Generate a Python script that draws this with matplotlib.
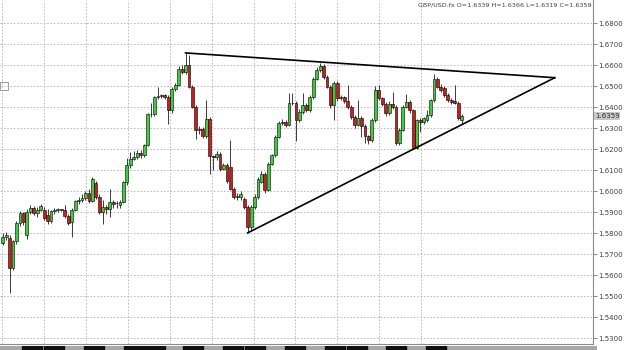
import numpy as np
import matplotlib
matplotlib.use("Agg")
import matplotlib.pyplot as plt
from matplotlib.patches import Rectangle

# GBP/USD.fx candles (oldest first)
opens = [
    1.5752, 1.5783, 1.5778, 1.5635, 1.5762, 1.5849, 1.5897, 1.5790, 1.5900, 1.5921,
    1.5897, 1.5913, 1.5913, 1.5889, 1.5857, 1.5905, 1.5911, 1.5913, 1.5913, 1.5881,
    1.5855, 1.5913, 1.5952, 1.5960, 1.5968, 1.5992, 1.5955,
    1.6040, 1.5975, 1.5900, 1.5925, 1.5915, 1.5950, 1.5943, 1.5935, 1.5951, 1.6044,
    1.6124, 1.6156, 1.6165, 1.6184, 1.6171, 1.6219, 1.6370, 1.6368, 1.6449, 1.6454,
    1.6457, 1.6449, 1.6386, 1.6489, 1.6505, 1.6584, 1.6570,
    1.6600, 1.6497, 1.6402, 1.6290, 1.6298, 1.6262, 1.6346, 1.6167, 1.6163, 1.6179,
    1.6108, 1.6124, 1.6115, 1.6013, 1.5973, 1.5975, 1.5965, 1.5925, 1.5830, 1.5925,
    1.5973, 1.6045, 1.6084, 1.6005, 1.6132,
    1.6171, 1.6261, 1.6324, 1.6332, 1.6317, 1.6419, 1.6422, 1.6340, 1.6380, 1.6411,
    1.6387, 1.6450, 1.6537, 1.6576,
    1.6595, 1.6545, 1.6498, 1.6411, 1.6518, 1.6443, 1.6450, 1.6430, 1.6400, 1.6356,
    1.6317, 1.6350, 1.6309, 1.6262, 1.6244, 1.6339, 1.6482, 1.6442, 1.6418, 1.6371,
    1.6418, 1.6403, 1.6229, 1.6292, 1.6403, 1.6426, 1.6387,
    1.6205, 1.6339, 1.6331, 1.6339, 1.6363, 1.6434, 1.6537, 1.6497, 1.6490, 1.6458,
    1.6434, 1.6430, 1.6420, 1.6339,
]
highs = [
    1.5800, 1.5805, 1.5790, 1.5770, 1.5860, 1.5905, 1.5900, 1.5915, 1.5935, 1.5930,
    1.5925, 1.5940, 1.5925, 1.5915, 1.5912, 1.5920, 1.5922, 1.5918, 1.5935, 1.5890,
    1.5920, 1.5960, 1.5975, 1.5985, 1.6000, 1.6010, 1.6070,
    1.6050, 1.5985, 1.5960, 1.5935, 1.6010, 1.5960, 1.5955, 1.5960, 1.6050, 1.6160,
    1.6185, 1.6190, 1.6195, 1.6195, 1.6225, 1.6375, 1.6420, 1.6455, 1.6497, 1.6465,
    1.6465, 1.6460, 1.6495, 1.6515, 1.6595, 1.6600, 1.6659,
    1.6650, 1.6505, 1.6410, 1.6310, 1.6305, 1.6433, 1.6355, 1.6175, 1.6190, 1.6185,
    1.6135, 1.6135, 1.6243, 1.6020, 1.5990, 1.6000, 1.5975, 1.5935, 1.5935, 1.5985,
    1.6070, 1.6095, 1.6090, 1.6140, 1.6180,
    1.6270, 1.6335, 1.6345, 1.6340, 1.6467, 1.6470, 1.6430, 1.6390, 1.6470, 1.6420,
    1.6460, 1.6545, 1.6590, 1.6612,
    1.6605, 1.6555, 1.6505, 1.6525, 1.6525, 1.6460, 1.6455, 1.6505, 1.6410, 1.6365,
    1.6435, 1.6360, 1.6320, 1.6270, 1.6350, 1.6500, 1.6505, 1.6450, 1.6425, 1.6430,
    1.6475, 1.6410, 1.6300, 1.6410, 1.6465, 1.6435, 1.6392,
    1.6345, 1.6350, 1.6355, 1.6385, 1.6440, 1.6561, 1.6545, 1.6510, 1.6500, 1.6470,
    1.6445, 1.6505, 1.6430, 1.6366,
]
lows = [
    1.5745, 1.5770, 1.5516, 1.5625, 1.5750, 1.5835, 1.5840, 1.5775, 1.5890, 1.5885,
    1.5880, 1.5905, 1.5865, 1.5845, 1.5850, 1.5890, 1.5900, 1.5905, 1.5875, 1.5840,
    1.5783, 1.5905, 1.5940, 1.5950, 1.5960, 1.5945, 1.5950,
    1.5965, 1.5890, 1.5846, 1.5890, 1.5880, 1.5920, 1.5920, 1.5920, 1.5945, 1.6030,
    1.6110, 1.6150, 1.6155, 1.6160, 1.6165, 1.6215, 1.6355, 1.6360, 1.6440, 1.6445,
    1.6440, 1.6322, 1.6375, 1.6480, 1.6500, 1.6560, 1.6560,
    1.6490, 1.6395, 1.6251, 1.6275, 1.6255, 1.6255, 1.6084, 1.6100, 1.6150, 1.6095,
    1.6100, 1.6040, 1.6005, 1.5965, 1.5960, 1.5960, 1.5915, 1.5802, 1.5815, 1.5915,
    1.5965, 1.6040, 1.5990, 1.6000, 1.6125,
    1.6165, 1.6255, 1.6315, 1.6305, 1.6310, 1.6410, 1.6238, 1.6330, 1.6370, 1.6380,
    1.6380, 1.6440, 1.6530, 1.6570,
    1.6535, 1.6490, 1.6395, 1.6340, 1.6430, 1.6435, 1.6420, 1.6390, 1.6345, 1.6300,
    1.6310, 1.6261, 1.6230, 1.6225, 1.6235, 1.6330, 1.6435, 1.6405, 1.6360, 1.6365,
    1.6390, 1.6222, 1.6222, 1.6285, 1.6395, 1.6375, 1.6200,
    1.6200, 1.6284, 1.6320, 1.6330, 1.6355, 1.6425, 1.6490, 1.6475, 1.6450, 1.6425,
    1.6415, 1.6415, 1.6340, 1.6319,
]
closes = [
    1.5783, 1.5790, 1.5635, 1.5762, 1.5849, 1.5897, 1.5852, 1.5900, 1.5921, 1.5897,
    1.5913, 1.5930, 1.5873, 1.5857, 1.5905, 1.5913, 1.5915, 1.5912, 1.5881, 1.5849,
    1.5913, 1.5952, 1.5960, 1.5968, 1.5992, 1.5955, 1.6058,
    1.5975, 1.5900, 1.5925, 1.5915, 1.5950, 1.5940, 1.5945, 1.5951, 1.6044, 1.6124,
    1.6156, 1.6165, 1.6184, 1.6171, 1.6219, 1.6370, 1.6368, 1.6449, 1.6454, 1.6457,
    1.6449, 1.6386, 1.6489, 1.6505, 1.6584, 1.6568, 1.6600,
    1.6497, 1.6402, 1.6290, 1.6298, 1.6262, 1.6346, 1.6167, 1.6163, 1.6179, 1.6108,
    1.6124, 1.6050, 1.6013, 1.5973, 1.5980, 1.5989, 1.5925, 1.5830, 1.5925, 1.5973,
    1.6060, 1.6084, 1.6005, 1.6132, 1.6171,
    1.6261, 1.6324, 1.6332, 1.6317, 1.6419, 1.6422, 1.6340, 1.6380, 1.6411, 1.6387,
    1.6450, 1.6537, 1.6576, 1.6595,
    1.6545, 1.6498, 1.6411, 1.6518, 1.6443, 1.6450, 1.6430, 1.6400, 1.6356, 1.6317,
    1.6350, 1.6309, 1.6262, 1.6244, 1.6339, 1.6482, 1.6442, 1.6418, 1.6371, 1.6418,
    1.6403, 1.6229, 1.6292, 1.6403, 1.6426, 1.6387, 1.6205,
    1.6339, 1.6331, 1.6347, 1.6363, 1.6434, 1.6537, 1.6497, 1.6482, 1.6458, 1.6434,
    1.6426, 1.6420, 1.6350, 1.6359,
]

# hand-drawn triangle (bar index, price)
upper_line_x = [53, 160]
upper_line_y = [1.6659, 1.6541]
lower_line_x = [71, 160]
lower_line_y = [1.5802, 1.6541]

price_ticks = [1.53, 1.54, 1.55, 1.56, 1.57, 1.58, 1.59, 1.60,
               1.61, 1.62, 1.63, 1.64, 1.65, 1.66, 1.67, 1.68]
symbol = "GBP/USD.fx"

o = np.array(opens)
h = np.array(highs)
l = np.array(lows)
c = np.array(closes)
x = np.arange(len(o))
up = c >= o

W, H = 625, 350
fig = plt.figure(figsize=(W / 100, H / 100), dpi=100)
fig.patch.set_facecolor("white")
ax = fig.add_axes([0, 6 / H, 593 / W, 344 / H])

ax.set_xlim(-0.78, 171.1)
ax.set_ylim(1.5273, 1.6911)

# grid: dashed horizontals, vertical day separators only up to the last bar
grid_kw = dict(color="#b2b2b2", lw=0.6, ls=(0, (2, 2)), zorder=1)
for p in price_ticks:
    ax.axhline(p, **grid_kw)
for d in np.arange(-0.2, len(o) - 10, 12.15):
    ax.axvline(d, **grid_kw)

# candles
ax.vlines(x, l, h, color="#3a3a3a", lw=0.7, zorder=2)
body_lo = np.minimum(o, c)
body_h = np.maximum(np.abs(c - o), 0.00025)
ax.bar(x[up], body_h[up], bottom=body_lo[up], width=0.82,
       color="#3ccd3c", edgecolor="black", linewidth=0.4, zorder=3)
ax.bar(x[~up], body_h[~up], bottom=body_lo[~up], width=0.82,
       color="#c81e1e", edgecolor="black", linewidth=0.4, zorder=3)

# triangle
ax.plot(upper_line_x, upper_line_y, color="black", lw=1.2, zorder=4)
ax.plot(lower_line_x, lower_line_y, color="black", lw=1.2, zorder=4)

# right price scale
ax.yaxis.tick_right()
ax.set_yticks(price_ticks)
ax.set_yticklabels([f"{p:.4f}" for p in price_ticks])
ax.tick_params(axis="y", length=3, width=0.6, color="#707070",
               labelsize=5, labelcolor="#404040", pad=1)
ax.set_xticks([])
for side in ("top", "left"):
    ax.spines[side].set_visible(False)
for side in ("right", "bottom"):
    ax.spines[side].set_color("#8a8a8a")
    ax.spines[side].set_linewidth(0.8)

# last price marker
last = closes[-1]
ax.text(1.003, last, f"{last:.4f}", transform=ax.get_yaxis_transform(),
        fontsize=5, color="#303030", va="center", ha="left",
        bbox=dict(boxstyle="square,pad=0.15", fc="#c8c8c8", ec="none"), zorder=6)

# header
ax.text(0.997, 0.992,
        f"{symbol} O={opens[-1]:.4f} H={highs[-1]:.4f} L={lows[-1]:.4f} C={closes[-1]:.4f}",
        transform=ax.transAxes, fontsize=4.6, color="#404040", ha="right", va="top")

# small object marker at left edge
ax.add_patch(Rectangle((0, 254 / 344), 8 / 593, 8 / 344, transform=ax.transAxes,
                       fill=False, ec="#909090", lw=0.6, clip_on=False))

# time-scale strip at the very bottom
strip = fig.add_axes([0, 0, 597 / W, 4 / H])
strip.set_xlim(0, 597)
strip.set_ylim(0, 1)
strip.axis("off")
strip.add_patch(Rectangle((0, 0), 597, 1, color="#a8a8a8"))
for sx in [22, 44, 84, 124, 145, 183, 223, 245, 285, 325, 347, 386, 426]:
    strip.add_patch(Rectangle((sx, 0), 20, 1, color="#111111"))

fig.savefig("out.png", dpi=100, facecolor="white")
